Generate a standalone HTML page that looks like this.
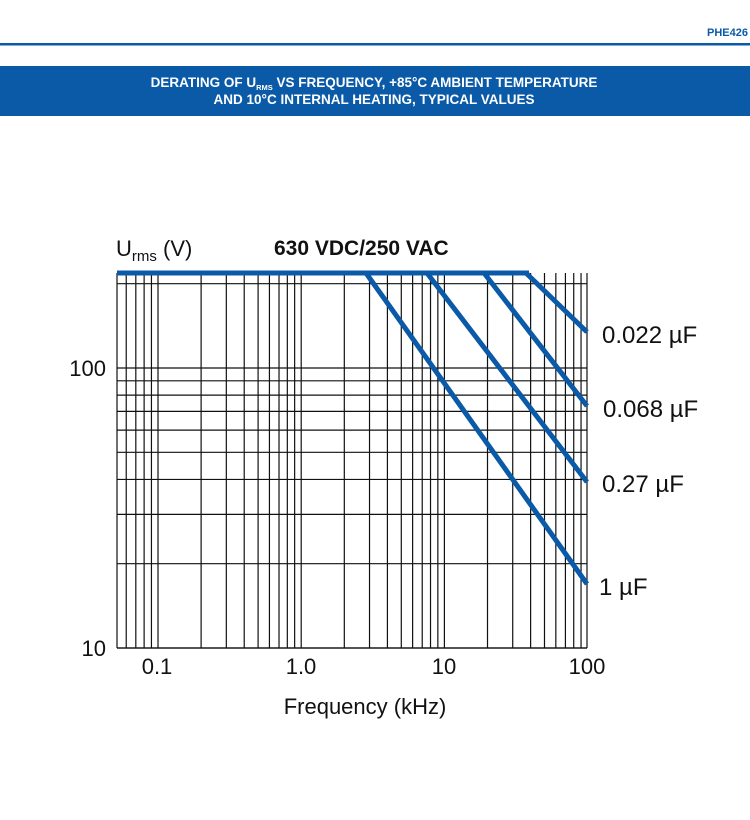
<!DOCTYPE html>
<html><head><meta charset="utf-8"><style>
html,body{margin:0;padding:0;background:#fff;}
body{width:750px;height:820px;position:relative;overflow:hidden;font-family:"Liberation Sans",sans-serif;}
</style></head><body>
<svg id="s" width="750" height="820" xmlns="http://www.w3.org/2000/svg" style="position:absolute;left:0;top:0">
<text x="748" y="36" text-anchor="end" font-size="11" font-weight="bold" fill="#0a5aa8">PHE426</text>
<rect x="0" y="43" width="750" height="2.5" fill="#0a5aa8"/>
<rect x="0" y="66" width="750" height="50" fill="#0a5aa8"/>
<text x="374" y="87" text-anchor="middle" font-size="13.5" font-weight="bold" fill="#fff">DERATING OF U<tspan font-size="7.5" dy="3">RMS</tspan><tspan dy="-3"> VS FREQUENCY, +85°C AMBIENT TEMPERATURE</tspan></text>
<text x="374" y="104" text-anchor="middle" font-size="13.5" font-weight="bold" fill="#fff">AND 10°C INTERNAL HEATING, TYPICAL VALUES</text>
<g id="grid" stroke="#111" stroke-width="1.2"></g>
<g stroke="#0a5aa8" stroke-width="5" fill="none" stroke-linecap="butt">
<line x1="117" y1="273" x2="529" y2="273"/>
<polyline points="366,273 587,584"/>
<polyline points="427,273 587,482"/>
<polyline points="484,273 587,406"/>
<polyline points="526,273 587,332"/>
</g>
<g font-size="22" fill="#111">
<text x="116" y="256" font-size="22">U<tspan font-size="15" dy="5">rms</tspan><tspan dy="-5"> (V)</tspan></text>
<text x="274" y="255" font-weight="bold" font-size="21">630 VDC/250 VAC</text>
<text x="106" y="376" text-anchor="end">100</text>
<text x="106" y="656" text-anchor="end">10</text>
<text x="157" y="674" text-anchor="middle">0.1</text>
<text x="301" y="674" text-anchor="middle">1.0</text>
<text x="444" y="674" text-anchor="middle">10</text>
<text x="587" y="674" text-anchor="middle">100</text>
<text x="365" y="714" text-anchor="middle" font-size="22">Frequency (kHz)</text>
<text x="602" y="343" font-size="24">0.022 µF</text>
<text x="603" y="417" font-size="24">0.068 µF</text>
<text x="602" y="492" font-size="24">0.27 µF</text>
<text x="599" y="595" font-size="24">1 µF</text>
</g>
</svg>
<script>
(function(){
var g=document.getElementById('grid'),ns='http://www.w3.org/2000/svg';
function L(x1,y1,x2,y2){var l=document.createElementNS(ns,'line');l.setAttribute('x1',x1);l.setAttribute('y1',y1);l.setAttribute('x2',x2);l.setAttribute('y2',y2);g.appendChild(l);}
var X0=158,D=143.2,T=273,B=648,LF=117,R=587;
for(var e=-2;e<=1;e++)for(var m=1;m<=9;m++){var x=X0+(e+1+Math.log10(m))*D;if(x>=LF-1&&x<=R+1)L(x,T,x,B);}
L(LF,T,LF,B);L(R,T,R,B);
var Y0=648,DY=280;
for(var e2=1;e2<=2;e2++)for(var m2=1;m2<=9;m2++){var y=Y0-(e2-1+Math.log10(m2))*DY;if(y>=T&&y<=B)L(LF,y,R,y);}
L(LF,B,R,B);
})();
</script>
</body></html>
